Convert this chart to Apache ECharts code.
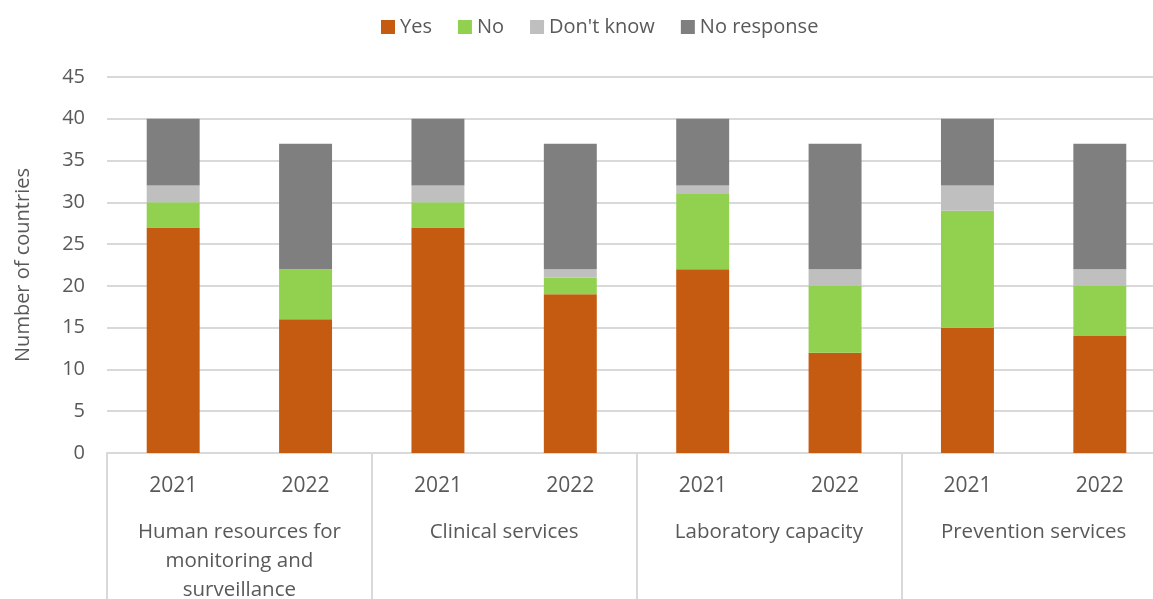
<!DOCTYPE html>
<html>
<head>
<meta charset="utf-8">
<script src="https://cdn.jsdelivr.net/npm/echarts@6/dist/echarts.min.js"></script>
<style>
  html, body { margin: 0; padding: 0; background: #fff; }
  #chart { width: 1153px; height: 599px; }
</style>
</head>
<body>
<div id="chart"></div>
<script>
// Bars: each topic surveyed in two years
var years = ['2021', '2022', '2021', '2022', '2021', '2022', '2021', '2022'];
var topics = [
  'Human resources for\nmonitoring and\nsurveillance',
  'Clinical services',
  'Laboratory capacity',
  'Prevention services'
];
var yesValues        = [27, 16, 27, 19, 22, 12, 15, 14];
var noValues         = [3, 6, 3, 2, 9, 8, 14, 6];
var dontKnowValues   = [2, 0, 2, 1, 1, 2, 3, 2];
var noResponseValues = [8, 15, 8, 15, 8, 15, 8, 15];
var yTicks = { min: 0, max: 45, interval: 5 };

var FONT = '"Open Sans", "Noto Sans", sans-serif';
var TEXT = '#595959';
var GRID = '#D9D9D9';

function bar(name, data, color) {
  return {
    name: name,
    type: 'bar',
    stack: 'total',
    barCategoryGap: '60%',
    data: data,
    itemStyle: { color: color },
    emphasis: { disabled: true }
  };
}

var chart = echarts.init(document.getElementById('chart'), null, { renderer: 'canvas' });
chart.setOption({
  animation: false,
  textStyle: { fontFamily: FONT },
  legend: {
    top: 12,
    left: 376,
    itemWidth: 14,
    itemHeight: 14,
    itemGap: 26,
    icon: 'rect',
    textStyle: { color: TEXT, fontSize: 20, fontFamily: FONT },
    data: ['Yes', 'No', "Don't know", 'No response']
  },
  grid: { left: 107, top: 77, width: 1059, height: 376, containLabel: false, outerBoundsMode: 'none' },
  xAxis: [
    {
      type: 'category',
      data: years,
      position: 'bottom',
      axisLine: { lineStyle: { color: GRID, width: 2 } },
      axisTick: { show: false },
      axisLabel: { color: TEXT, fontSize: 21, margin: 23, fontFamily: FONT }
    },
    {
      type: 'category',
      data: topics,
      position: 'bottom',
      axisLine: { show: false },
      axisTick: { show: true, length: 160, interval: 0, lineStyle: { color: GRID, width: 2 } },
      axisLabel: { color: TEXT, fontSize: 20.5, margin: 65, lineHeight: 29, interval: 0, fontFamily: FONT, verticalAlign: 'top' }
    }
  ],
  yAxis: {
    type: 'value',
    min: yTicks.min,
    max: yTicks.max,
    interval: yTicks.interval,
    name: 'Number of countries',
    nameLocation: 'middle',
    nameGap: 74,
    nameTextStyle: { color: TEXT, fontSize: 20, fontFamily: FONT },
    axisLine: { show: false },
    axisTick: { show: false },
    axisLabel: { color: TEXT, fontSize: 20, margin: 22, fontFamily: FONT },
    splitLine: { lineStyle: { color: GRID, width: 2 } }
  },
  series: [
    bar('Yes', yesValues, '#C55A11'),
    bar('No', noValues, '#92D050'),
    bar("Don't know", dontKnowValues, '#BFBFBF'),
    bar('No response', noResponseValues, '#7F7F7F')
  ]
});
</script>
</body>
</html>
